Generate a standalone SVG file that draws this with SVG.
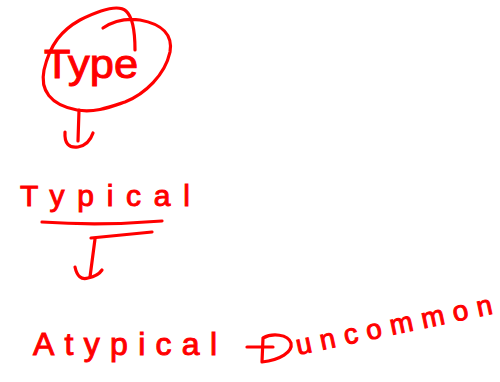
<svg xmlns="http://www.w3.org/2000/svg" width="500" height="382" viewBox="0 0 500 382">
<style>
.t{fill:#f00;stroke:#f00;stroke-width:1;font-family:"Liberation Sans",Arial,sans-serif;}
.s{fill:none;stroke:#f00;stroke-width:3.2;stroke-linecap:round;stroke-linejoin:round;}
</style>
<rect width="500" height="382" fill="#fff"/>
<g id="node-type">
<path class="s" d="M135,50 C135,35 134,18 126,11 C118,4 100,10 80,20 C62,30 50,44 44,70 C40,90 50,105 77,110 C95,113 110,107 125,102 C145,94 165,75 170,52 C173,35 162,24 140,20 C125,18 112,22 103,28"/>
<text class="t" x="44" y="78" font-size="40" textLength="94" lengthAdjust="spacingAndGlyphs">Type</text>
</g>
<g id="node-typical">
<text class="t" x="20" y="206" font-size="30" textLength="170" lengthAdjust="spacing">Typical</text>
<path class="s" d="M42,222 Q100,226 162,221" stroke-width="4"/>
<path class="s" d="M91,238 L152,232"/>
</g>
<g id="node-atypical">
<text class="t" x="33" y="355" font-size="32" textLength="184" lengthAdjust="spacing">Atypical</text>
</g>
<g id="node-uncommon">
<text class="t" x="298" y="355" font-size="28" textLength="200" lengthAdjust="spacing" transform="rotate(-12 298 355)">uncommon</text>
</g>
<g id="connectors">
<path class="s" d="M79,110 L78,141"/>
<path class="s" d="M65,132 Q64,149 78,147 Q89,145 93,133"/>
<path class="s" d="M95,239 L90,277"/>
<path class="s" d="M75,267 Q78,281 88,278 Q98,276 102,270"/>
<path class="s" d="M247,347 L273,347"/>
<path class="s" d="M263,338 L262,362 C280,360 293,352 291,343 C288,334 272,333 263,338"/>
</g>
</svg>
